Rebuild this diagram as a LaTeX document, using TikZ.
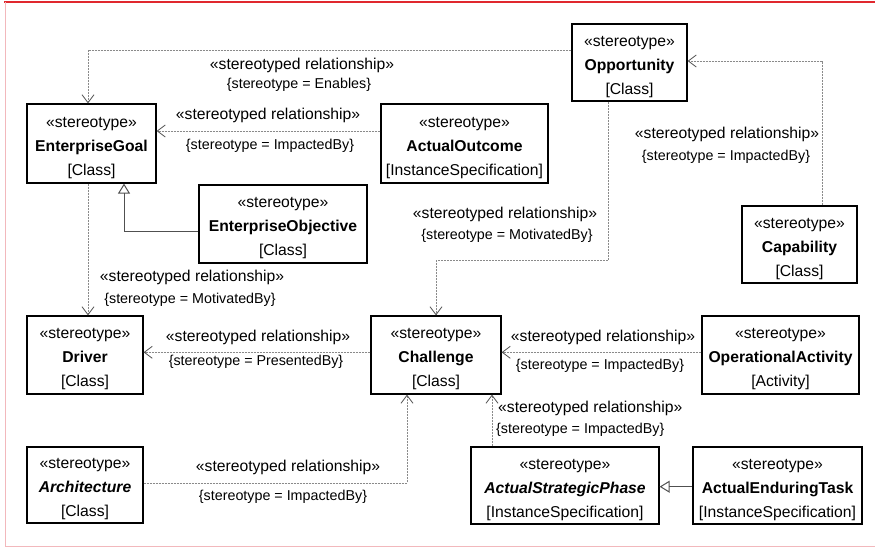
\documentclass[tikz,border=0pt]{standalone}
\usepackage{fontspec}
\setmainfont{Liberation Sans}
\usetikzlibrary{arrows.meta}
\definecolor{relgray}{HTML}{8A8A8A}
\definecolor{tipgray}{HTML}{505050}
\definecolor{framered}{HTML}{E0282E}
\definecolor{framepink}{HTML}{F2B8BC}
\newcommand\toplift{\rule{0pt}{18.5pt}}
\tikzset{
  umlbox/.style={draw=black, line width=1.2pt, fill=white, inner sep=0pt, align=center,
    font=\fontsize{15.7}{24}\selectfont},
  rel/.style={draw=relgray, line width=0.8pt, dash pattern=on 2pt off 1pt,
    -{Straight Barb[length=8pt,width=12pt,line width=0.8pt,color=tipgray]}},
  gen/.style={draw=tipgray, line width=1pt,
    -{Triangle[open,length=10pt,width=12pt,line width=1pt]}},
  stlab/.style={inner sep=0pt, font=\fontsize{15.7}{18}\selectfont},
  tvlab/.style={inner sep=0pt, font=\fontsize{14.3}{16}\selectfont},
}
\begin{document}
\begin{tikzpicture}[x=1pt,y=-1pt]
\useasboundingbox (0,0) rectangle (875,548);
% frame
\draw[framered, line width=1.5pt] (4,2) -- (875,2);
\draw[framepink, line width=0.8pt] (5,2) -- (5,546) -- (875,546);

% boxes
\node[umlbox, minimum width=115pt, minimum height=77pt] (opp) at (629.5,62.5)
  {\toplift«stereotype»\\\textbf{Opportunity}\\{}[Class]};
\node[umlbox, minimum width=129pt, minimum height=79pt] (eg) at (91.5,143.5)
  {\toplift«stereotype»\\\textbf{EnterpriseGoal}\\{}[Class]};
\node[umlbox, minimum width=167pt, minimum height=79pt] (ao) at (464.5,143.5)
  {\toplift«stereotype»\\\textbf{ActualOutcome}\\{}[InstanceSpecification]};
\node[umlbox, minimum width=168pt, minimum height=78pt] (eo) at (283,224)
  {\toplift«stereotype»\\\textbf{EnterpriseObjective}\\{}[Class]};
\node[umlbox, minimum width=115pt, minimum height=77pt] (cap) at (799.5,244.5)
  {\toplift«stereotype»\\\textbf{Capability}\\{}[Class]};
\node[umlbox, minimum width=116pt, minimum height=78pt] (drv) at (85,355)
  {\toplift«stereotype»\\\textbf{Driver}\\{}[Class]};
\node[umlbox, minimum width=130pt, minimum height=78pt] (chal) at (436,355)
  {\toplift«stereotype»\\\textbf{Challenge}\\{}[Class]};
\node[umlbox, minimum width=157pt, minimum height=78pt] (oa) at (780.5,355)
  {\toplift«stereotype»\\\textbf{OperationalActivity}\\{}[Activity]};
\node[umlbox, minimum width=116pt, minimum height=76pt] (arch) at (85,485)
  {\toplift«stereotype»\\\textbf{\itshape Architecture}\\{}[Class]};
\node[umlbox, minimum width=188pt, minimum height=77pt] (asp) at (565,485.5)
  {\toplift«stereotype»\\\textbf{\itshape ActualStrategicPhase}\\{}[InstanceSpecification]};
\node[umlbox, minimum width=169pt, minimum height=77pt] (aet) at (777.5,485.5)
  {\toplift«stereotype»\\\textbf{ActualEnduringTask}\\{}[InstanceSpecification]};

% connectors
\draw[rel] ([yshift=12.5pt]opp.west) -| ([xshift=-3.5pt]eg.north);
\draw[rel] ([yshift=12.5pt]ao.west) -- ([yshift=12.5pt]eg.east);
\draw[gen] ([yshift=-7pt]eo.west) -| ([xshift=32.5pt]eg.south);
\draw[rel] ([xshift=-3.5pt]eg.south) -- ([xshift=-3.5pt]eg.south |- drv.north);
\draw[rel] ([xshift=-21.5pt]opp.south) |- ([yshift=55pt]chal.north) -- (chal.north);
\draw[rel] ([xshift=22.5pt]cap.north) |- ([yshift=1.5pt]opp.east);
\draw[rel] ([yshift=2.7pt]chal.west) -- ([yshift=2.7pt]drv.east);
\draw[rel] ([yshift=2.7pt]oa.west) -- ([yshift=2.7pt]chal.east);
\draw[rel] ([yshift=2pt]arch.east) -| ([xshift=-29pt]chal.south);
\draw[rel] ([xshift=-73pt]asp.north) -- ([xshift=-73pt]asp.north |- chal.south);
\draw[gen] ([yshift=-1.2pt]aet.west) -- ([yshift=-1.2pt]asp.east);

% labels
\node[stlab] (l1a) at (302,65) {«stereotyped relationship»};
\node[tvlab] (l1b) at (299,85) {\{stereotype = Enables\}};
\node[stlab] (l2a) at (268,115) {«stereotyped relationship»};
\node[tvlab] (l2b) at (270,146) {\{stereotype = ImpactedBy\}};
\node[stlab] (l3a) at (727,134) {«stereotyped relationship»};
\node[tvlab] (l3b) at (726,157) {\{stereotype = ImpactedBy\}};
\node[stlab] (l4a) at (505,214) {«stereotyped relationship»};
\node[tvlab] (l4b) at (507,236) {\{stereotype = MotivatedBy\}};
\node[stlab] (l5a) at (192,277) {«stereotyped relationship»};
\node[tvlab] (l5b) at (190,300) {\{stereotype = MotivatedBy\}};
\node[stlab] (l6a) at (258,337) {«stereotyped relationship»};
\node[tvlab] (l6b) at (256,362) {\{stereotype = PresentedBy\}};
\node[stlab] (l7a) at (603,337) {«stereotyped relationship»};
\node[tvlab] (l7b) at (600,366) {\{stereotype = ImpactedBy\}};
\node[stlab, anchor=west] (l8a) at (498,408) {«stereotyped relationship»};
\node[tvlab, anchor=west] (l8b) at (496,430) {\{stereotype = ImpactedBy\}};
\node[stlab] (l9a) at (288,467) {«stereotyped relationship»};
\node[tvlab] (l9b) at (283,497) {\{stereotype = ImpactedBy\}};
\end{tikzpicture}
\end{document}
